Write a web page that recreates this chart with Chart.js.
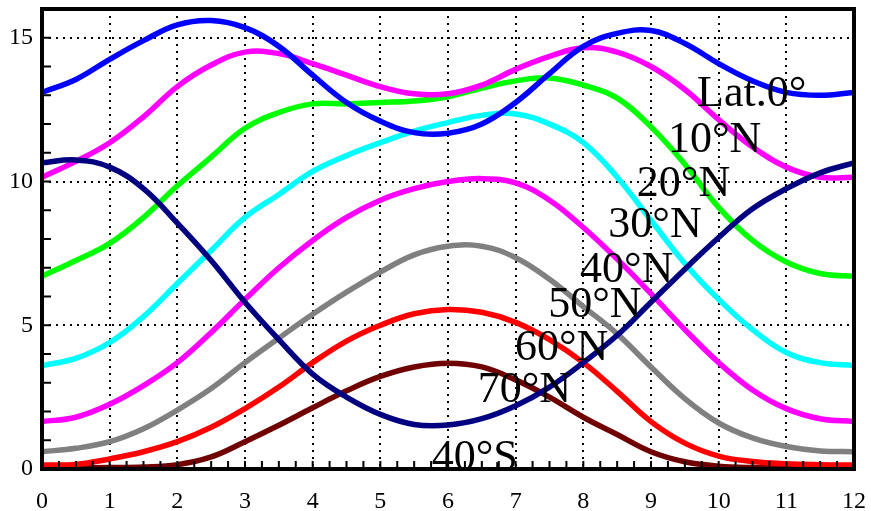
<!DOCTYPE html>
<html>
<head>
<meta charset="utf-8">
<script src="https://cdn.jsdelivr.net/npm/chart.js@4.4.0/dist/chart.umd.min.js"></script>
<style>
    html, body { margin: 0; padding: 0; background: #fff; }
</style>
</head>
<body>
<canvas id="insolacionChart" width="871" height="511"></canvas>
<script>
// meses (eje x) cada medio mes
const meses = [0, 0.5, 1, 1.5, 2, 2.5, 3, 3.5, 4, 4.5, 5, 5.5, 6, 6.5, 7, 7.5, 8, 8.5, 9, 9.5, 10, 10.5, 11, 11.5, 12];

const lat0  = [13.1, 13.55, 14.25, 14.9, 15.45, 15.6, 15.35, 14.7, 13.7, 12.75, 12.1, 11.7, 11.68, 12.0, 12.75, 13.75, 14.7, 15.15, 15.25, 14.8, 14.1, 13.5, 13.1, 13.0, 13.1];
const lat10 = [10.15, 10.7, 11.35, 12.25, 13.3, 14.05, 14.5, 14.45, 14.1, 13.7, 13.3, 13.05, 13.05, 13.35, 13.9, 14.35, 14.65, 14.5, 14.0, 13.2, 12.15, 11.2, 10.5, 10.15, 10.15];
const lat20 = [6.7, 7.25, 7.85, 8.75, 9.85, 10.85, 11.85, 12.4, 12.7, 12.7, 12.75, 12.8, 12.95, 13.25, 13.5, 13.6, 13.35, 12.9, 11.9, 10.6, 9.1, 7.95, 7.2, 6.8, 6.7];
const lat30 = [3.6, 3.85, 4.4, 5.3, 6.45, 7.6, 8.75, 9.55, 10.35, 10.9, 11.35, 11.75, 12.05, 12.3, 12.35, 12.0, 11.35, 10.15, 8.65, 7.15, 5.9, 4.85, 4.05, 3.7, 3.6];
const lat40 = [1.65, 1.8, 2.25, 2.9, 3.7, 4.75, 5.9, 7.0, 7.95, 8.75, 9.35, 9.75, 10.0, 10.1, 9.95, 9.35, 8.4, 7.3, 6.1, 4.85, 3.7, 2.75, 2.1, 1.75, 1.65];
const lat50 = [0.6, 0.72, 0.95, 1.4, 2.05, 2.8, 3.7, 4.55, 5.38, 6.15, 6.85, 7.45, 7.75, 7.75, 7.35, 6.6, 5.65, 4.7, 3.55, 2.45, 1.6, 1.08, 0.78, 0.63, 0.6];
const lat60 = [0.14, 0.16, 0.35, 0.6, 0.95, 1.45, 2.1, 2.85, 3.7, 4.45, 5.0, 5.4, 5.55, 5.45, 5.1, 4.5, 3.7, 2.7, 1.65, 0.9, 0.45, 0.26, 0.18, 0.15, 0.14];
const lat70 = [0.04, 0.04, 0.05, 0.07, 0.15, 0.42, 0.95, 1.52, 2.13, 2.72, 3.22, 3.55, 3.68, 3.55, 3.1, 2.5, 1.8, 1.2, 0.6, 0.25, 0.1, 0.05, 0.04, 0.04, 0.04];
const lat40S = [10.65, 10.75, 10.5, 9.75, 8.55, 7.25, 5.8, 4.5, 3.3, 2.5, 1.9, 1.55, 1.53, 1.75, 2.2, 2.85, 3.7, 4.65, 5.8, 6.95, 8.05, 9.05, 9.75, 10.3, 10.65];

const ticksX = [0, 1, 2, 3, 4, 5, 6, 7, 8, 9, 10, 11, 12];
const ticksY = [0, 5, 10, 15];

// etiquetas de latitud y su posición (en unidades de datos)
const etiquetas = ['Lat.0°', '10°N', '20°N', '30°N', '40°N', '50°N', '60°N', '70°N', '40°S'];
const etiquetasX = [9.68, 9.25, 8.79, 8.37, 7.95, 7.48, 6.99, 6.44, 5.76];
const etiquetasY = [12.63, 11.03, 9.5, 8.07, 6.5, 5.29, 3.79, 2.33, -0.03];

const serif = '"Liberation Serif", "Times New Roman", serif';

const puntos = (valores) => meses.map((m, i) => ({ x: m, y: valores[i] }));

const serie = (valores, color) => ({
    data: puntos(valores),
    borderColor: color,
    borderWidth: 5.5,
    pointRadius: 0,
    fill: false,
    tension: 0.4
});

// quita el relleno automático que Chart.js deja para las etiquetas de los extremos
const sinRelleno = (scale) => {
    scale.paddingTop = 0;
    scale.paddingBottom = 0;
    scale.paddingLeft = 0;
    scale.paddingRight = 0;
};

// marco, marcas menores hacia dentro y etiquetas
const marcoPlugin = {
    id: 'marco',
    afterDatasetsDraw(chart) {
        const { ctx, chartArea: a, scales } = chart;
        ctx.save();
        ctx.strokeStyle = '#000';
        ctx.lineWidth = 2;
        ctx.beginPath();
        for (let v = 1; v < 16; v++) {
            const py = scales.y.getPixelForValue(v);
            ctx.moveTo(a.left, py);
            ctx.lineTo(a.left + 9, py);
        }
        for (let v = 0.25; v < 12; v += 0.25) {
            const px = scales.x.getPixelForValue(v);
            ctx.moveTo(px, a.bottom);
            ctx.lineTo(px, a.bottom - 8);
        }
        ctx.stroke();
        ctx.lineWidth = 4;
        ctx.strokeRect(a.left, a.top, a.right - a.left, a.bottom - a.top);
        ctx.restore();
    },
    afterDraw(chart) {
        const { ctx, scales } = chart;
        ctx.save();
        ctx.font = '44px ' + serif;
        ctx.fillStyle = '#000';
        ctx.textAlign = 'left';
        ctx.textBaseline = 'alphabetic';
        etiquetas.forEach((t, i) => {
            ctx.fillText(t, scales.x.getPixelForValue(etiquetasX[i]), scales.y.getPixelForValue(etiquetasY[i]));
        });
        ctx.restore();
    }
};

const ctx = document.getElementById('insolacionChart').getContext('2d');

new Chart(ctx, {
    type: 'line',
    data: {
        datasets: [
            serie(lat40S, '#000080'),
            serie(lat0, '#0000ff'),
            serie(lat10, '#ff00ff'),
            serie(lat20, '#00ff00'),
            serie(lat30, '#00ffff'),
            serie(lat40, '#ff00ff'),
            serie(lat50, '#808080'),
            serie(lat60, '#ff0000'),
            serie(lat70, '#700000')
        ]
    },
    options: {
        responsive: false,
        animation: false,
        devicePixelRatio: 1,
        layout: { padding: { top: 9, right: 17, left: 0, bottom: 0 } },
        plugins: {
            legend: { display: false },
            tooltip: { enabled: false }
        },
        scales: {
            x: {
                type: 'linear',
                min: 0,
                max: 12,
                afterBuildTicks: (scale) => { scale.ticks = ticksX.map(v => ({ value: v })); },
                afterFit: (scale) => { scale.height = 42; sinRelleno(scale); },
                ticks: { color: '#000', font: { family: serif, size: 24 }, padding: 18, maxRotation: 0 },
                grid: { color: '#000', lineWidth: 2, drawTicks: false },
                border: { display: false, dash: [2, 5] }
            },
            y: {
                min: 0,
                max: 16,
                afterBuildTicks: (scale) => { scale.ticks = ticksY.map(v => ({ value: v })); },
                afterFit: (scale) => { scale.width = 42; sinRelleno(scale); },
                ticks: { color: '#000', font: { family: serif, size: 24 }, padding: 9 },
                grid: { color: '#000', lineWidth: 2, drawTicks: false },
                border: { display: false, dash: [2, 5] }
            }
        }
    },
    plugins: [marcoPlugin]
});
</script>
</body>
</html>
